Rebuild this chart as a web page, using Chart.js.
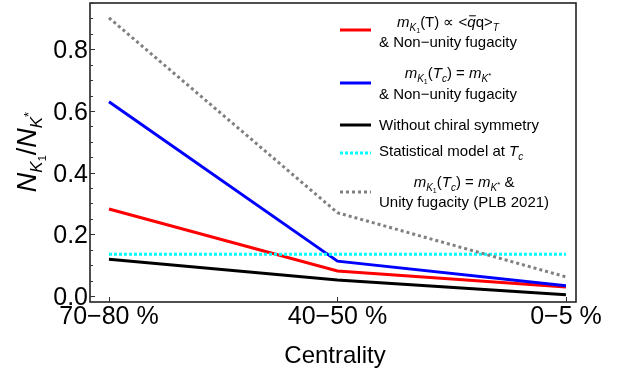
<!DOCTYPE html>
<html lang="en">
<head>
  <meta charset="UTF-8">
  <title>K1 / K* ratio vs centrality</title>
  <script src="https://cdn.jsdelivr.net/npm/chart.js"></script>
  <style>
    body { margin: 0; padding: 0; background: #fff; overflow: hidden; }
    .wrap { width: 634px; height: 372px; position: relative; }
  </style>
</head>
<body>
  <div class="wrap"><canvas id="ratioChart"></canvas></div>
  <script>
    // data
    const categories = ['70\u221280 %', '40\u221250 %', '0\u22125 %'];
    const redVals = [0.282, 0.081, 0.029];
    const blueVals = [0.630, 0.113, 0.033];
    const blackVals = [0.119, 0.052, 0.004];
    const cyanVals = [0.135, 0.135, 0.135];
    const grayVals = [0.902, 0.270, 0.062];
    const yTicks = [0.0, 0.2, 0.4, 0.6, 0.8];
    const yMinorStep = 0.05;

    const FONT = '"Liberation Sans", Arial, sans-serif';

    function pts(vals) {
      return vals.map((v, i) => ({ x: i, y: v }));
    }

    // draw a row of text runs (italic / sub / superscript pieces)
    function runFont(r, base) {
      return (r.i ? 'italic ' : '') + (r.s || base) + 'px ' + FONT;
    }
    function runsWidth(ctx, runs, base) {
      let w = 0;
      runs.forEach(r => { ctx.font = runFont(r, base); w += ctx.measureText(r.t).width; });
      return w;
    }
    function drawRuns(ctx, runs, x, y, base) {
      ctx.textBaseline = 'alphabetic';
      ctx.textAlign = 'left';
      runs.forEach(r => {
        ctx.font = runFont(r, base);
        const w = ctx.measureText(r.t).width;
        ctx.fillText(r.t, x, y + (r.dy || 0));
        if (r.bar) {
          const sz = r.s || base;
          ctx.fillRect(x + sz * 0.12, y - sz * 0.78, w * 0.8, 1);
        }
        x += w;
      });
      return x;
    }

    const mK1 = [{ t: 'm', i: 1 }, { t: 'K', i: 1, s: 10, dy: 4 }, { t: '1', s: 7, dy: 6 }];
    const mKstar = [{ t: 'm', i: 1 }, { t: 'K', i: 1, s: 10, dy: 4 }, { t: '*', s: 8, dy: 0 }];
    const Tc = [{ t: 'T', i: 1 }, { t: 'c', i: 1, s: 10, dy: 4 }];

    const legendItems = [
      { color: '#ff0000', dash: [], sy: 30, lines: [
        { y: 27, runs: mK1.concat([{ t: '(T) \u221d <' }, { t: 'q', i: 1, bar: 1 }, { t: 'q>' }, { t: 'T', i: 1, s: 10, dy: 4 }]) },
        { y: 47, runs: [{ t: '& Non\u2212unity fugacity' }] }] },
      { color: '#0000ff', dash: [], sy: 83, lines: [
        { y: 78, runs: mK1.concat([{ t: '(' }], Tc, [{ t: ') = ' }], mKstar) },
        { y: 99, runs: [{ t: '& Non\u2212unity fugacity' }] }] },
      { color: '#000000', dash: [], sy: 125, left: true, lines: [
        { y: 130, runs: [{ t: 'Without chiral symmetry' }] }] },
      { color: '#00ffff', dash: [3, 2], sy: 153, left: true, lines: [
        { y: 156, runs: [{ t: 'Statistical model at ' }].concat(Tc) }] },
      { color: '#808080', dash: [3, 3], sy: 192, lines: [
        { y: 187, runs: mK1.concat([{ t: '(' }], Tc, [{ t: ') = ' }], mKstar, [{ t: ' &' }]) },
        { y: 207, runs: [{ t: 'Unity fugacity (PLB 2021)' }] }] }
    ];

    const framePlugin = {
      id: 'frame',
      afterDatasetsDraw(chart) {
        const ctx = chart.ctx;
        const a = chart.chartArea;
        const xs = chart.scales.x, ys = chart.scales.y;
        ctx.save();
        // box
        ctx.strokeStyle = '#222';
        ctx.lineWidth = 1.6;
        ctx.strokeRect(a.left, a.top, a.right - a.left, a.bottom - a.top);
        // y ticks (inward)
        ctx.lineWidth = 1;
        ctx.strokeStyle = '#333';
        for (let v = 0; v <= ys.max + 1e-9; v += yMinorStep) {
          const py = Math.round(ys.getPixelForValue(v)) + 0.5;
          const major = yTicks.some(t => Math.abs(t - v) < 1e-6);
          ctx.beginPath();
          ctx.moveTo(a.left, py);
          ctx.lineTo(a.left + (major ? 5 : 3), py);
          ctx.stroke();
        }
        // x ticks
        categories.forEach((c, i) => {
          const px = Math.round(xs.getPixelForValue(i)) + 0.5;
          ctx.beginPath();
          ctx.moveTo(px, a.bottom);
          ctx.lineTo(px, a.bottom - 5);
          ctx.stroke();
        });
        // tick labels
        ctx.fillStyle = '#000';
        ctx.font = '25px ' + FONT;
        ctx.textAlign = 'right';
        ctx.textBaseline = 'middle';
        yTicks.forEach(t => {
          ctx.fillText(t.toFixed(1), a.left - 2, ys.getPixelForValue(t) + 2);
        });
        ctx.textAlign = 'center';
        ctx.textBaseline = 'top';
        categories.forEach((c, i) => {
          ctx.fillText(c, xs.getPixelForValue(i), a.bottom + 3);
        });
        // axis titles
        ctx.font = '24px ' + FONT;
        ctx.fillText('Centrality', 335, 344);

        ctx.save();
        ctx.translate(36, 152);
        ctx.rotate(-Math.PI / 2);
        const yTitle = [{ t: 'N', i: 1 }, { t: 'K', i: 1, s: 17, dy: 6 }, { t: '1', s: 11, dy: 10 },
          { t: '/' }, { t: 'N', i: 1 }, { t: 'K', i: 1, s: 17, dy: 6 }, { t: '*', s: 13, dy: -3 }];
        const tw = runsWidth(ctx, yTitle, 27);
        drawRuns(ctx, yTitle, -tw / 2, 0, 27);
        ctx.restore();

        // legend
        const textX = 379;
        legendItems.forEach(item => {
          ctx.strokeStyle = item.color;
          ctx.lineWidth = 3;
          ctx.setLineDash(item.dash);
          ctx.beginPath();
          ctx.moveTo(340, item.sy);
          ctx.lineTo(371, item.sy);
          ctx.stroke();
          ctx.setLineDash([]);
          const widths = item.lines.map(l => runsWidth(ctx, l.runs, 15));
          const maxW = Math.max.apply(null, widths);
          item.lines.forEach((l, k) => {
            const x0 = item.left ? textX : textX + (maxW - widths[k]) / 2;
            drawRuns(ctx, l.runs, x0, l.y, 15);
          });
        });
        ctx.restore();
      }
    };

    const lineStyle = { borderWidth: 3, pointRadius: 0, fill: false, tension: 0 };

    new Chart(document.getElementById('ratioChart'), {
      type: 'line',
      data: {
        datasets: [
          Object.assign({ label: 'red', data: pts(redVals), borderColor: '#ff0000', order: 4 }, lineStyle),
          Object.assign({ label: 'blue', data: pts(blueVals), borderColor: '#0000ff', order: 3 }, lineStyle),
          Object.assign({ label: 'black', data: pts(blackVals), borderColor: '#000000', order: 2 }, lineStyle),
          Object.assign({ label: 'cyan', data: pts(cyanVals), borderColor: '#00ffff', borderDash: [3, 2], order: 1 }, lineStyle),
          Object.assign({ label: 'gray', data: pts(grayVals), borderColor: '#808080', borderDash: [3, 3], order: 0 }, lineStyle)
        ]
      },
      options: {
        responsive: true,
        maintainAspectRatio: false,
        animation: false,
        layout: { padding: { left: 90, right: 58, top: 3, bottom: 70 } },
        scales: {
          x: { type: 'linear', min: -0.083, max: 2.044, display: false },
          y: { type: 'linear', min: -0.0195, max: 0.95, display: false }
        },
        plugins: { legend: { display: false }, tooltip: { enabled: false } }
      },
      plugins: [framePlugin]
    });
  </script>
</body>
</html>
